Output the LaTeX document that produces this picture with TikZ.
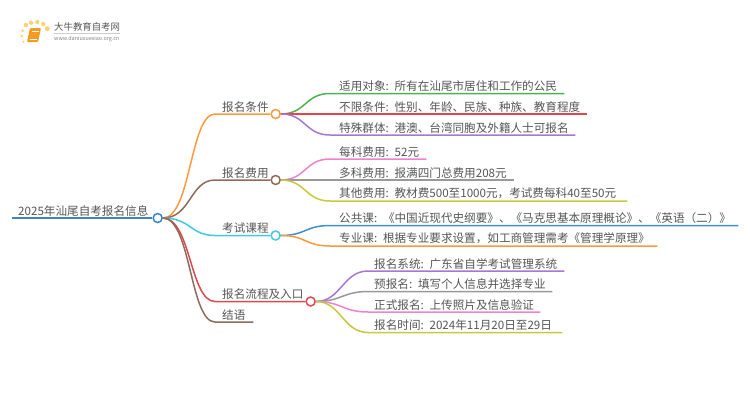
\documentclass[tikz,border=0pt]{standalone}
\usepackage{fontspec}
\setmainfont{Noto Sans CJK SC}
\definecolor{rootblue}{HTML}{3C85C4}
\definecolor{orangeline}{HTML}{FF9A3C}
\definecolor{brownline}{HTML}{8F6B5E}
\definecolor{cyanline}{HTML}{3FCBDD}
\definecolor{redline}{HTML}{DC4A4F}
\definecolor{greenline}{HTML}{4DB34D}
\definecolor{redleaf}{HTML}{E8424A}
\definecolor{purpleline}{HTML}{A678D6}
\definecolor{pinkline}{HTML}{EE82D0}
\definecolor{grayline}{HTML}{999999}
\definecolor{oliveline}{HTML}{C8C83C}
\definecolor{blueleaf}{HTML}{3D8FD1}
\definecolor{labelgray}{HTML}{555555}
\definecolor{bookorange}{HTML}{F59A23}
\definecolor{dotyellow}{HTML}{FBD27A}
\tikzset{
  label text/.style={anchor=south west, inner xsep=0pt, inner ysep=1.6pt, text=labelgray, font=\fontsize{11.6}{13}\selectfont, align=left},
  link/.style={line width=1.5pt},
  knob/.style={circle, draw=#1, fill=white, line width=1.5pt, minimum size=9pt, inner sep=0pt, anchor=west}
}
\begin{document}
\begin{tikzpicture}[x=1pt, y=-1pt]
  \useasboundingbox (0,0) rectangle (750,410);
  % Logo
  \foreach \x/\y/\r in {26/25/2.2,31/22.7/2.2,37.3/22/2.2,43.3/24/2.2,47.3/28.7/2.5,22.7/30.7/1.5,21.7/36/1.4,23.3/41.7/1.1}
    \fill[dotyellow] (\x,\y) circle (\r);
  \fill[bookorange, rounded corners=1pt] (30,28) -- (41,28) -- (38,42) -- (27,42) -- cycle;
  \draw[white, line width=0.6pt] (32,31) -- (38.5,31);
  \draw[white, line width=0.6pt] (29.5,39.5) -- (37,39.5);
  \node[anchor=west, inner sep=0pt, text=labelgray, font=\fontsize{9.4}{10}\selectfont] (brand) at (54,26.5) {大牛教育自考网};
  \draw[gray!40, line width=0.5pt] (54,33) -- (120,33);
  \node[anchor=west, inner sep=0pt, text=gray, font=\fontsize{5.4}{6}\selectfont] (site) at (54,38.7) {www.daniuxuexiao.org.cn};
  % Central topic on the left
  \node[label text, text width=140pt] (topic) at (12,218) {\hspace*{6pt}2025年汕尾自考报名信息};
  \node[knob=rootblue] (hub) at (topic.south east) {};
  \draw[link, rootblue] (topic.south west) -- (topic.south east);
  % Main branches: name/y/colour/line length/text
  \foreach \name/\ypos/\col/\len/\txt in {
    cond/114/orangeline/55/报名条件,
    fee/180/brownline/55/报名费用,
    exam/235.5/cyanline/55/考试课程,
    flow/301.5/redline/90/报名流程及入口,
    concl/322/brownline/38/结语}
  {
    \node[label text, text width=\len pt] (\name) at (215,\ypos) {\hspace*{7pt}\txt};
    \draw[link, \col] (hub.east) .. controls +(28,0) and +(-25,0) .. (\name.south west) -- (\name.south east);
  }
  \foreach \name/\col in {cond/orangeline, fee/brownline, exam/cyanline, flow/redline}
    \node[knob=\col] (\name knob) at (\name.south east) {};
  % Leaves: parent/name/x/indent/y/colour/line length/text
  \foreach \src/\name/\xpos/\ind/\ypos/\col/\len/\txt in {
    cond/who/330/9/93.5/greenline/234/适用对象: 所有在汕尾市居住和工作的公民,
    cond/limit/330/9/114/redleaf/257/不限条件: 性别、年龄、民族、种族、教育程度,
    cond/special/330/9/135/purpleline/245/特殊群体: 港澳、台湾同胞及外籍人士可报名,
    fee/single/330/9/159/pinkline/96/每科费用: 52元,
    fee/multi/330/9/180/grayline/184/多科费用: 报满四门总费用208元,
    fee/other/330/9/201/oliveline/297/其他费用: 教材费500至1000元，考试费每科40至50元,
    exam/public/330/9/225.5/blueleaf/408/公共课: 《中国近现代史纲要》、《马克思基本原理概论》、《英语（二）》,
    exam/major/330/9/246/orangeline/327/专业课: 根据专业要求设置，如工商管理需考《管理学原理》,
    flow/sys/368/6/271/purpleline/196/报名系统: 广东省自学考试管理系统,
    flow/pre/368/6/291.5/grayline/184/预报名: 填写个人信息并选择专业,
    flow/formal/368/6/312/pinkline/172/正式报名: 上传照片及信息验证,
    flow/when/368/6/332.5/oliveline/194/报名时间: 2024年11月20日至29日}
  {
    \node[label text, text width=\len pt] (\name) at (\xpos,\ypos) {\hspace*{\ind pt}\txt};
    \draw[link, \col] (\src knob.east) .. controls +(25,0) and +(-25,0) .. (\name.south west) -- (\name.south east);
  }
\end{tikzpicture}
\end{document}
